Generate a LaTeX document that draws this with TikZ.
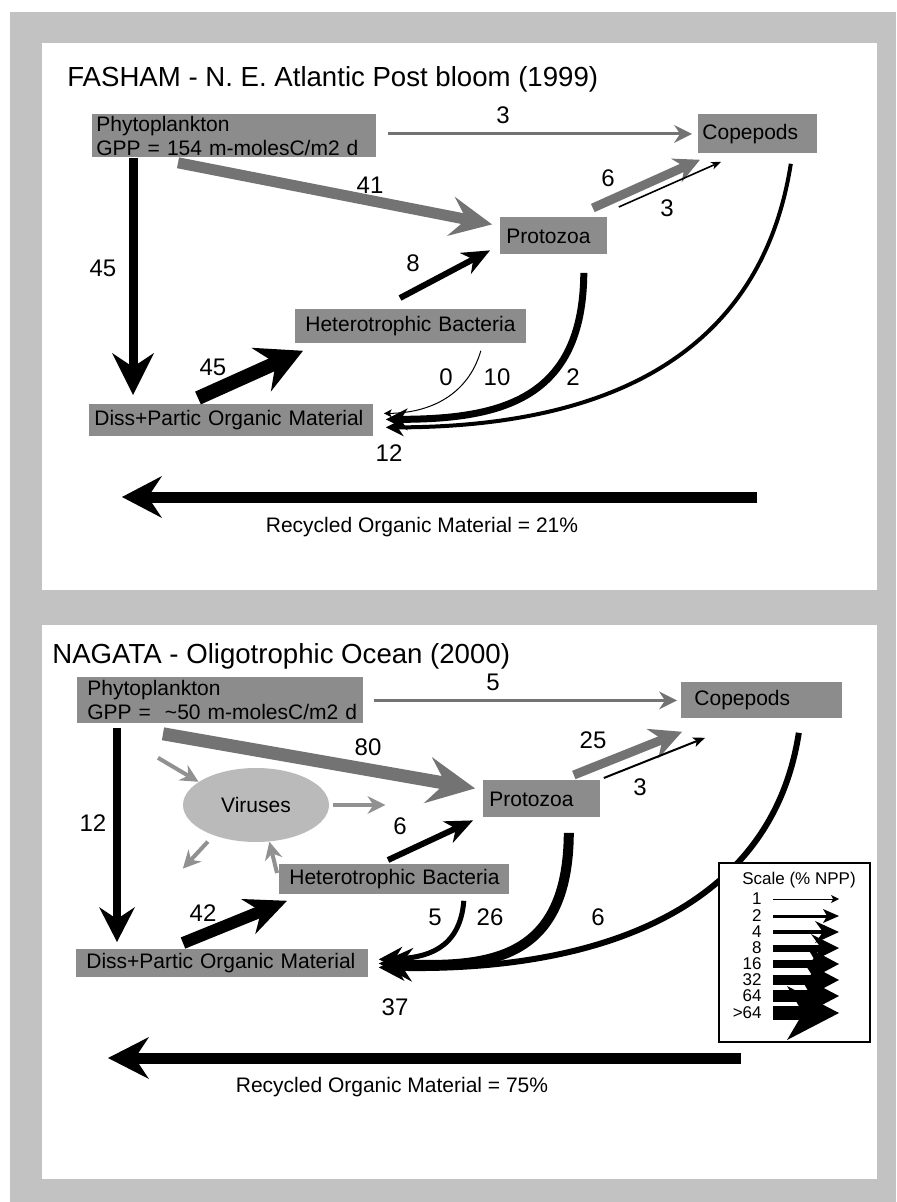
\documentclass[tikz,border=0pt]{standalone}
\usepackage{fontspec}
\setmainfont{Liberation Sans}
\usetikzlibrary{arrows.meta,shapes.geometric}

\definecolor{framegray}{gray}{0.76}
\definecolor{boxgray}{gray}{0.55}
\definecolor{flowgray}{gray}{0.45}
\definecolor{virusgray}{gray}{0.73}
\definecolor{smallgray}{gray}{0.57}

\tikzset{
	box/.style n args={3}{fill=boxgray, anchor=north west, inner xsep=#3, inner ysep=0pt, text width=#1, minimum height=#2, align=left, font=\fontsize{10.5}{12}\selectfont},
	flow/.style n args={4}{line width=#1, -{Stealth[length=#2, width=#3, inset=#4, line width=0pt]}},
	num/.style={font=\fontsize{12}{12}\selectfont, inner sep=0pt},
	paneltitle/.style={font=\fontsize{13.8}{14}\selectfont, anchor=base west, inner sep=0pt},
	recyc/.style={font=\fontsize{10.5}{11}\selectfont, inner sep=0pt},
	scaletext/.style={font=\fontsize{8.5}{9}\selectfont, inner sep=0pt}
}

\begin{document}
\begin{tikzpicture}[x=0.5pt, y=-0.5pt]
	\useasboundingbox (0,0) rectangle (896,1202);
	\fill[white] (0,0) rectangle (896,1202);
	\fill[framegray] (10,12) rectangle (896,1202);
	\fill[white] (42,43) rectangle (877,590);
	\fill[white] (42,625) rectangle (877,1179);

	\node[paneltitle] (titleA) at (67,87) {FASHAM - N. E. Atlantic Post bloom (1999)};
	\node[box={138pt}{21.5pt}{2pt}] (phytoA) at (92,114) {\mbox{Phytoplankton}\\\mbox{GPP = 154 m-molesC/m2 d}};
	\node[box={55.5pt}{19.5pt}{2pt}] (copeA) at (698,114) {\mbox{Copepods}};
	\node[box={47.5pt}{18.5pt}{3pt}] (protoA) at (500,217) {\mbox{Protozoa}};
	\node[box={105.5pt}{17pt}{5pt}] (bactA) at (295,309) {\mbox{Heterotrophic Bacteria}};
	\node[box={137pt}{16pt}{2.5pt}] (dissA) at (89,404) {\mbox{Diss+Partic Organic Material}};

	\draw[flowgray, flow={1.5pt}{9pt}{9pt}{3pt}] ([xshift=5.5pt,yshift=1pt]phytoA.east) -- ([xshift=-3pt]copeA.west);
	\draw[flowgray, flow={5.5pt}{21pt}{20pt}{8pt}] ([xshift=43pt,yshift=-2.5pt]phytoA.south west) -- ([xshift=-4pt,yshift=5.75pt]protoA.west);
	\draw[flow={4.5pt}{21pt}{21pt}{7pt}] ([xshift=20.5pt]phytoA.south west) -- ([xshift=22pt,yshift=4.5pt]dissA.north west);
	\draw[flow={7pt}{23pt}{24pt}{8pt}] ([xshift=54.5pt,yshift=3pt]dissA.north west) -- ([xshift=4pt,yshift=-3.5pt]bactA.south west);
	\draw[flow={3pt}{14pt}{12pt}{4.5pt}] ([xshift=52.5pt,yshift=5.5pt]bactA.north west) -- ([xshift=-5pt,yshift=-7.25pt]protoA.west);
	\draw[flowgray, flow={4.5pt}{13pt}{13pt}{4.5pt}] ([xshift=-7.5pt,yshift=4.5pt]protoA.north east) -- ([xshift=1pt,yshift=-3pt]copeA.south west);
	\draw[flow={0.8pt}{5pt}{4pt}{1.5pt}] ([xshift=5.5pt,yshift=5pt]protoA.north east) -- ([xshift=11.5pt,yshift=-4pt]copeA.south west);
	\draw[flow={0.5pt}{4pt}{4pt}{1pt}] ([xshift=-23pt,yshift=-3.5pt]bactA.south east) .. controls (468,395) and (430,413) .. ([xshift=5pt,yshift=3.5pt]dissA.east);
	\draw[flow={3.5pt}{11pt}{11pt}{3.5pt}] ([xshift=-12pt,yshift=-9pt]protoA.south east) .. controls (583,400) and (500,419) .. ([xshift=6pt,yshift=0.5pt]dissA.east);
	\draw[flow={2pt}{9pt}{9pt}{3pt}] ([xshift=-13.5pt,yshift=-5pt]copeA.south east) .. controls (760,360) and (600,427) .. ([xshift=6pt,yshift=-3.5pt]dissA.east);

	\node[num] (nA1) at (503,115) {3};
	\node[num] (nA2) at (370,185) {41};
	\node[num] (nA3) at (103,268) {45};
	\node[num] (nA4) at (213,367) {45};
	\node[num] (nA5) at (413,263) {8};
	\node[num] (nA6) at (608,178) {6};
	\node[num] (nA7) at (667,208) {3};
	\node[num] (nA8) at (446,377) {0};
	\node[num] (nA9) at (497,377) {10};
	\node[num] (nA10) at (573,377) {2};
	\node[num] (nA11) at (389,453) {12};

	\coordinate (recycA0) at (757,497);
	\coordinate (recycA1) at (122,497);
	\draw[flow={5.5pt}{20pt}{21pt}{7pt}] (recycA0) -- (recycA1);
	\node[recyc] (recycAlbl) at (422,527) {Recycled Organic Material = 21\%};

	\node[paneltitle] (titleB) at (52,663) {NAGATA - Oligotrophic Ocean (2000)};
	\node[box={133pt}{23pt}{5pt}] (phytoB) at (77,677) {\mbox{Phytoplankton}\\\mbox{GPP = \ \textasciitilde50 m-molesC/m2 d}};
	\node[box={67.5pt}{18pt}{6.5pt}] (copeB) at (681,682) {\mbox{Copepods}};
	\node[box={52.5pt}{18.5pt}{3pt}] (protoB) at (483,780) {\mbox{Protozoa}};
	\node[box={105pt}{15pt}{5pt}] (bactB) at (279,864) {\mbox{Heterotrophic Bacteria}};
	\node[box={136pt}{14pt}{5pt}] (dissB) at (76,949) {\mbox{Diss+Partic Organic Material}};
	\node[ellipse, fill=virusgray, minimum width=73pt, minimum height=37pt, inner sep=0pt, font=\fontsize{10.5}{11}\selectfont] (virB) at (256,805) {Viruses};

	\draw[flowgray, flow={1.5pt}{9pt}{9pt}{3pt}] ([xshift=5pt]phytoB.east) -- ([xshift=-2pt]copeB.west);
	\draw[flowgray, flow={6.5pt}{24pt}{23.5pt}{9pt}] ([xshift=43pt,yshift=-5pt]phytoB.south west) -- ([xshift=-4pt,yshift=5.25pt]protoB.west);
	\draw[flow={4pt}{17.5pt}{18pt}{6pt}] ([xshift=20pt,yshift=-2pt]phytoB.south west) -- ([xshift=20.5pt,yshift=3.5pt]dissB.north west);
	\draw[flow={6pt}{21pt}{19pt}{7pt}] ([xshift=53.5pt,yshift=3pt]dissB.north west) -- ([xshift=4pt,yshift=-3pt]bactB.south west);
	\draw[flow={3pt}{14pt}{12pt}{4.5pt}] ([xshift=54.5pt,yshift=2pt]bactB.north west) -- ([xshift=-5pt,yshift=-10.75pt]protoB.west);
	\draw[smallgray, flow={2pt}{9pt}{9pt}{3pt}] ([xshift=40.5pt,yshift=-17pt]phytoB.south west) -- (virB.158);
	\draw[smallgray, flow={2pt}{9pt}{9pt}{3pt}] ([xshift=2pt]virB.east) -- ++(26pt,0);
	\draw[smallgray, flow={2pt}{9pt}{9pt}{3pt}] ([shift={(-3pt,-3pt)}]virB.216) -- ++(-12.5pt,-13.5pt);
	\draw[smallgray, flow={2pt}{9pt}{9pt}{3pt}] ([shift={(-1pt,-4.5pt)}]bactB.north west) -- (virB.290);
	\draw[flowgray, flow={4.5pt}{16pt}{16pt}{5.5pt}] ([xshift=-13.5pt,yshift=2.5pt]protoB.north east) -- ([xshift=0.5pt,yshift=-6.5pt]copeB.south west);
	\draw[flow={1pt}{6pt}{5pt}{1.5pt}] ([xshift=1.5pt,yshift=1pt]protoB.north east) -- ([xshift=12pt,yshift=-9.5pt]copeB.south west);
	\draw[flow={2.5pt}{12pt}{12pt}{4pt}] ([xshift=-23pt,yshift=-3pt]bactB.south east) .. controls (460,950) and (425,958) .. ([xshift=5pt,yshift=2pt]dissB.east);
	\draw[flow={5pt}{17pt}{17pt}{6pt}] ([xshift=-16pt,yshift=-7.5pt]protoB.south east) .. controls (568,960) and (490,968) .. ([xshift=5pt]dissB.east);
	\draw[flow={3pt}{13pt}{13pt}{4pt}] ([xshift=-22pt,yshift=-7pt]copeB.south east) .. controls (770,920) and (580,972) .. ([xshift=5pt,yshift=-2pt]dissB.east);

	\node[num] (nB1) at (493,682) {5};
	\node[num] (nB2) at (368,747) {80};
	\node[num] (nB3) at (93,823) {12};
	\node[num] (nB4) at (203,913) {42};
	\node[num] (nB5) at (400,826) {6};
	\node[num] (nB6) at (593,740) {25};
	\node[num] (nB7) at (640,787) {3};
	\node[num] (nB8) at (435,917) {5};
	\node[num] (nB9) at (490,917) {26};
	\node[num] (nB10) at (598,917) {6};
	\node[num] (nB11) at (395,1007) {37};

	\draw[line width=0.6pt, fill=white] (719,863) rectangle (870,1042);
	\node[scaletext] (scaletitle) at (799,880) {Scale (\% NPP)};
	\foreach \lab/\yy/\lw/\hl/\hw/\hi [count=\i] in {1/899/0.5pt/4pt/4pt/1pt, 2/916/1.5pt/8pt/7pt/2pt, 4/932/2.3pt/12pt/11pt/4pt, 8/948/3.5pt/14pt/14pt/5pt, 16/964/4.3pt/16pt/17pt/5pt, 32/980/5pt/18pt/19pt/6pt, 64/996/6pt/20pt/21pt/6pt, >64/1013/7pt/26pt/27pt/8pt} {
		\node[scaletext, anchor=east] (sclab\i) at (762,\yy) {\lab};
		\draw[flow={\lw}{\hl}{\hw}{\hi}] ([xshift=5.5pt]sclab\i.east) -- ++(33pt,0);
	}

	\coordinate (recycB0) at (741,1058);
	\coordinate (recycB1) at (108,1058);
	\draw[flow={5.5pt}{20.5pt}{21pt}{7pt}] (recycB0) -- (recycB1);
	\node[recyc] (recycBlbl) at (392,1087) {Recycled Organic Material = 75\%};
\end{tikzpicture}
\end{document}
